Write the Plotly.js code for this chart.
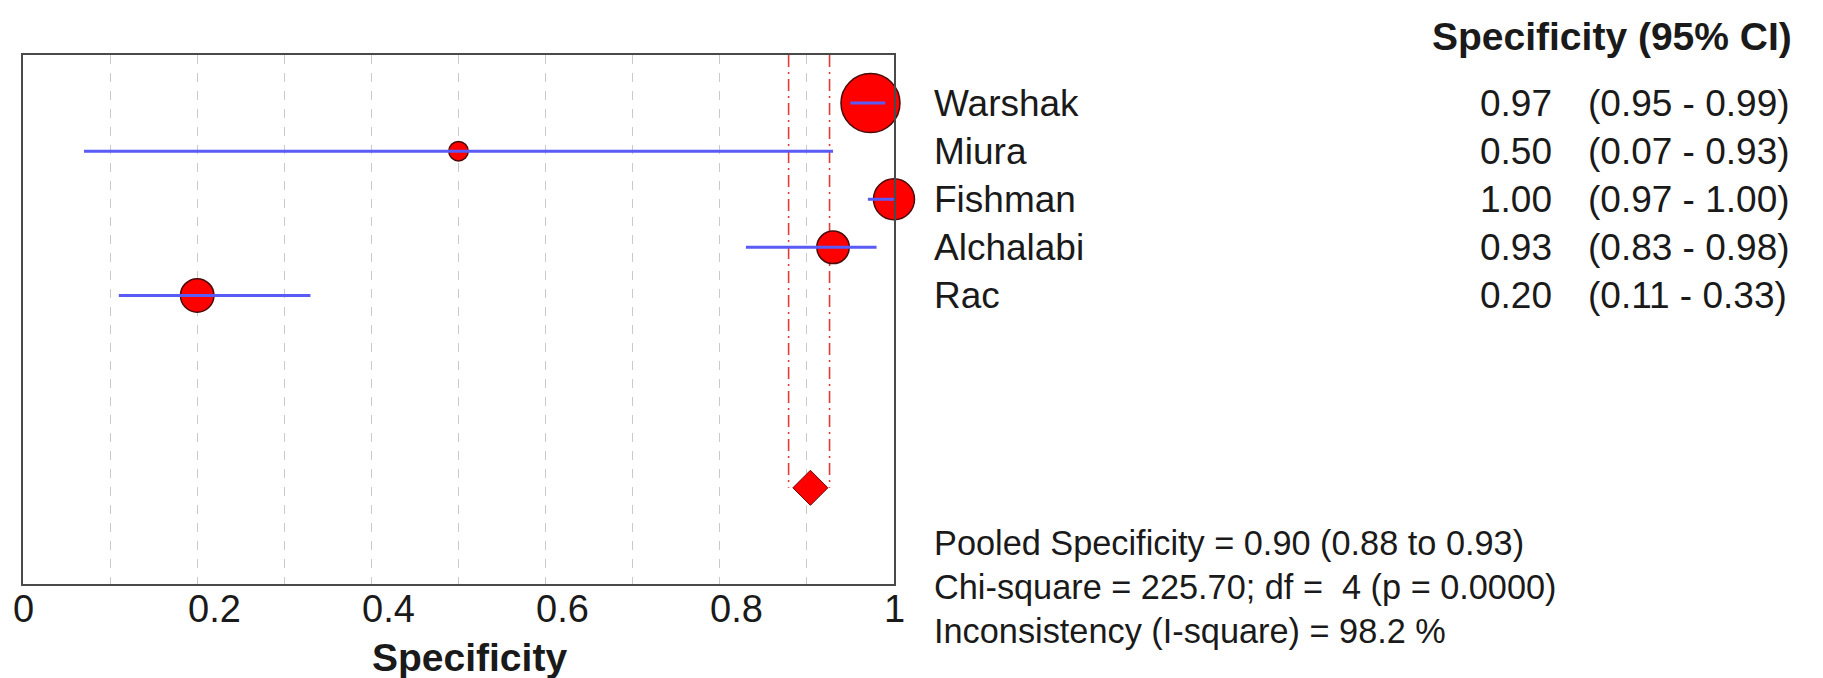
<!DOCTYPE html>
<html>
<head>
<meta charset="utf-8">
<script src="https://cdn.plot.ly/plotly-3.0.1.min.js"></script>
<style>
  html, body { margin: 0; padding: 0; background: #ffffff; }
  #chart { width: 1823px; height: 678px; }
</style>
</head>
<body>
<div id="chart"></div>
<script>
// ---- data ----
const studies = ['Warshak', 'Miura', 'Fishman', 'Alchalabi', 'Rac'];
const specificity = [0.973, 0.50, 1.00, 0.93, 0.20];
const ciLow = [0.95, 0.07, 0.97, 0.83, 0.11];
const ciHigh = [0.99, 0.93, 1.00, 0.98, 0.33];
const weights = [45.1, 4.9, 21.8, 13.7, 14.5];   // relative study weights (marker area)
const rowPos = [1, 2, 3, 4, 5];
const pooled = { est: 0.904, low: 0.879, high: 0.926, row: 9 };
const chiSquare = 225.70, df = 4, pValue = 0.0000, iSquare = 98.2;
const tickVals = [0, 0.2, 0.4, 0.6, 0.8, 1];
const tickText = ['0', '0.2', '0.4', '0.6', '0.8', '1'];
const gridStep = 0.1;
const axisTitle = 'Specificity';
const header = 'Specificity (95% CI)';

// ---- derived structures ----
const fmt = v => v.toFixed(2);
const ciX = [], ciY = [];
studies.forEach((s, i) => { ciX.push(ciLow[i], ciHigh[i], null); ciY.push(rowPos[i], rowPos[i], null); });
const refX = [pooled.low, pooled.low, null, pooled.high, pooled.high];
const refY = [0, pooled.row, null, 0, pooled.row];

const FONT = '"Liberation Sans", Arial, Helvetica, sans-serif';
const ROW = 37, STAT = 34.3, BOLD = 39, TICK = 38;
const INK = '#1a1a1a';
const plotL = 23, plotR = 929, plotT = 55, plotB = 94, W = 1823, H = 678;
const plotW = W - plotL - plotR, plotH = H - plotT - plotB;
const px = X => (X - plotL) / plotW;            // page x -> paper x
const py = Y => (H - plotB - Y) / plotH;        // page y -> paper y

const traces = [
  { x: refX, y: refY, mode: 'lines', type: 'scatter', hoverinfo: 'skip',
    line: { color: '#e23a3a', width: 1.6, dash: '12px,5px,2px,5px' } },
  { x: specificity, y: rowPos, mode: 'markers', type: 'scatter', cliponaxis: false,
    marker: { color: '#ff0000', opacity: 1, size: weights, sizemode: 'area', sizeref: 0.0259,
              line: { color: '#4a0a0a', width: 1.5 } } },
  { x: ciX, y: ciY, mode: 'lines', type: 'scatter', cliponaxis: false, hoverinfo: 'skip',
    line: { color: '#5a5af5', width: 3 } },
  { x: [pooled.est], y: [pooled.row], mode: 'markers', type: 'scatter', cliponaxis: false,
    marker: { symbol: 'diamond', color: '#ff0000', opacity: 1, size: 27, line: { color: '#6a0a0a', width: 1 } } }
];

const annotations = [];
studies.forEach((s, i) => {
  annotations.push({ xref: 'paper', yref: 'y', x: px(932), y: rowPos[i], text: s,
    xanchor: 'left', yanchor: 'middle', showarrow: false, font: { family: FONT, size: ROW, color: INK } });
  annotations.push({ xref: 'paper', yref: 'y', x: px(1554), y: rowPos[i], text: fmt(specificity[i]),
    xanchor: 'right', yanchor: 'middle', showarrow: false, font: { family: FONT, size: ROW, color: INK } });
  annotations.push({ xref: 'paper', yref: 'y', x: px(1586), y: rowPos[i],
    text: '(' + fmt(ciLow[i]) + ' - ' + fmt(ciHigh[i]) + ')',
    xanchor: 'left', yanchor: 'middle', showarrow: false, font: { family: FONT, size: ROW, color: INK } });
});
annotations.push({ xref: 'paper', yref: 'paper', x: px(1794), y: py(36), text: '<b>' + header + '</b>',
  xanchor: 'right', yanchor: 'middle', showarrow: false, font: { family: FONT, size: BOLD, color: INK } });
const stats = [
  'Pooled Specificity = ' + fmt(pooled.est) + ' (' + fmt(pooled.low) + ' to ' + fmt(pooled.high) + ')',
  'Chi-square = ' + chiSquare.toFixed(2) + '; df =  ' + df + ' (p = ' + pValue.toFixed(4) + ')',
  'Inconsistency (I-square) = ' + iSquare.toFixed(1) + ' %'
];
const statY = [543, 587, 631];
stats.forEach((t, i) => annotations.push({ xref: 'paper', yref: 'paper', x: px(932), y: py(statY[i]),
  text: t.replace(/  /g, ' &nbsp;'), xanchor: 'left', yanchor: 'middle', showarrow: false,
  font: { family: FONT, size: STAT, color: INK } }));
annotations.push({ xref: 'paper', yref: 'paper', x: 0.513, y: py(657), text: '<b>' + axisTitle + '</b>',
  xanchor: 'center', yanchor: 'middle', showarrow: false, font: { family: FONT, size: BOLD, color: INK } });
// tick labels: placed on the x scale, first digit centred on the tick (as in the reference)
const digitHalf = 0.556 * TICK / 2;
tickVals.forEach((v, i) => annotations.push({ xref: 'x', yref: 'paper', x: v, y: py(609), text: tickText[i],
  xanchor: 'left', yanchor: 'middle', xshift: -digitHalf - 1, showarrow: false,
  font: { family: FONT, size: TICK, color: INK } }));

const layout = {
  width: W, height: H,
  margin: { l: plotL, r: plotR, t: plotT, b: plotB, pad: 0 },
  paper_bgcolor: '#ffffff', plot_bgcolor: '#ffffff',
  showlegend: false,
  font: { family: FONT, size: ROW, color: INK },
  xaxis: {
    range: [0, 1], tickmode: 'linear', tick0: 0, dtick: gridStep, showticklabels: false,
    showgrid: true, gridcolor: '#cacaca', griddash: 'dash', gridwidth: 1,
    zeroline: false, showline: true, mirror: true, linecolor: '#4a4a4a', linewidth: 2,
    ticks: '', fixedrange: true
  },
  yaxis: {
    range: [11, 0], showticklabels: false, ticks: '', showgrid: false, zeroline: false,
    showline: true, mirror: true, linecolor: '#4a4a4a', linewidth: 2, fixedrange: true
  },
  annotations: annotations
};

Plotly.newPlot('chart', traces, layout, { displayModeBar: false, staticPlot: true });
</script>
</body>
</html>
